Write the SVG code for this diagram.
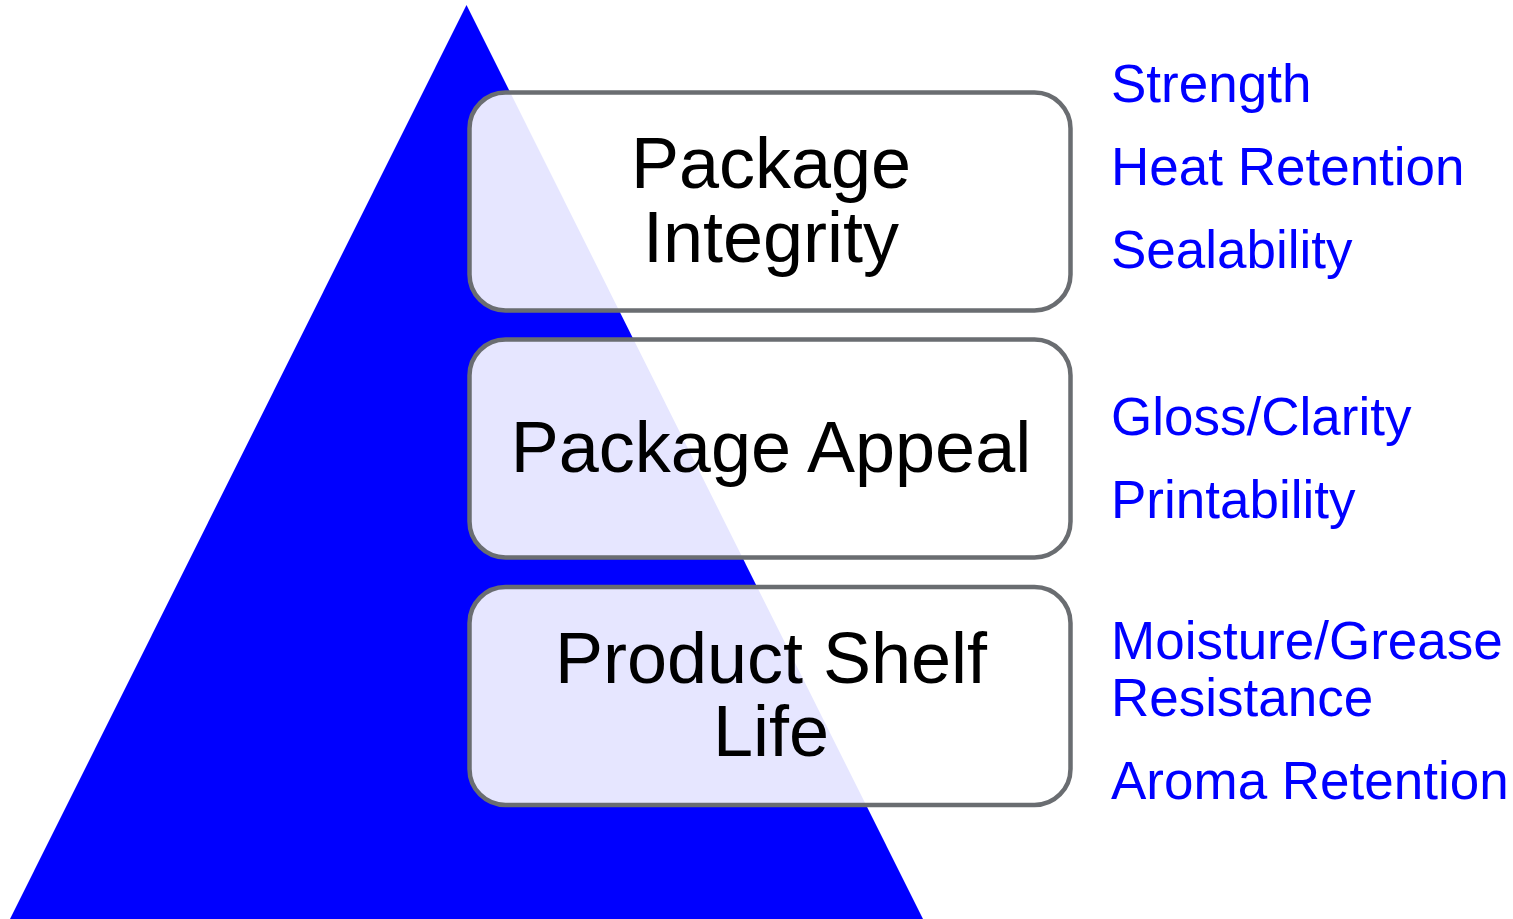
<svg xmlns="http://www.w3.org/2000/svg" width="1513" height="919" viewBox="0 0 1513 919">
<style>
.box{fill:#ffffff;fill-opacity:0.9;stroke:#6a6d71;stroke-width:4.5}
.lbl{font-family:"Liberation Sans",Arial,sans-serif;font-size:72px;fill:#000000;text-anchor:middle}
.side{font-family:"Liberation Sans",Arial,sans-serif;font-size:53px;fill:#0000ff}
</style>
<rect width="1513" height="919" fill="#ffffff"/>
<polygon id="pyramid" points="466.5,5 10,919 923,919" fill="#0000ff"/>
<g id="connectors"/>
<g id="node-integrity">
<rect class="box" x="469.5" y="92.5" width="601" height="218" rx="36" ry="36"/>
<text class="lbl" x="771" y="188">Package</text>
<text class="lbl" x="771" y="262">Integrity</text>
</g>
<g id="node-appeal">
<rect class="box" x="469.5" y="339.5" width="601" height="218" rx="36" ry="36"/>
<text class="lbl" x="771" y="472">Package Appeal</text>
</g>
<g id="node-shelf">
<rect class="box" x="469.5" y="587" width="601" height="218" rx="36" ry="36"/>
<text class="lbl" x="771" y="683">Product Shelf</text>
<text class="lbl" x="771" y="756">Life</text>
</g>
<g id="attrs-integrity">
<text class="side" x="1111" y="101.5">Strength</text>
<text class="side" x="1111" y="185">Heat Retention</text>
<text class="side" x="1111" y="268">Sealability</text>
</g>
<g id="attrs-appeal">
<text class="side" x="1111" y="434.5">Gloss/Clarity</text>
<text class="side" x="1111" y="517.5">Printability</text>
</g>
<g id="attrs-shelf">
<text class="side" x="1111" y="659">Moisture/Grease</text>
<text class="side" x="1111" y="716">Resistance</text>
<text class="side" x="1111" y="799">Aroma Retention</text>
</g>
</svg>
